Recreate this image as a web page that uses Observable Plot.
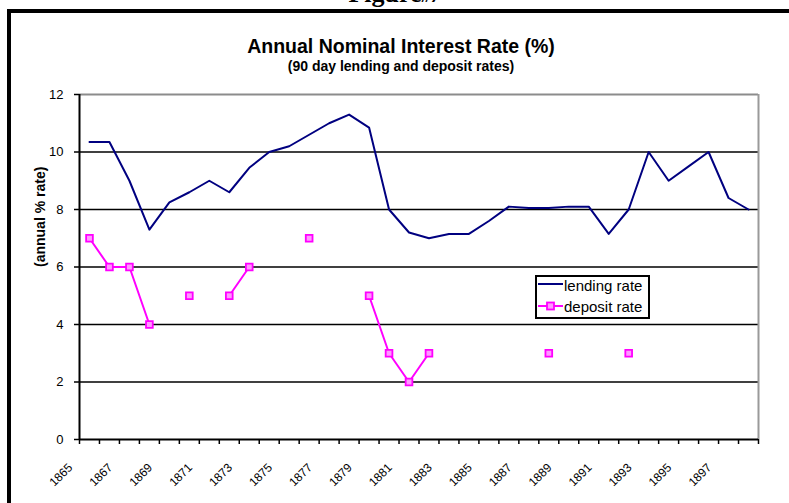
<!DOCTYPE html>
<html>
<head>
<meta charset="utf-8">
<script src="https://cdn.jsdelivr.net/npm/d3@7"></script>
<script src="https://cdn.jsdelivr.net/npm/@observablehq/plot@0.6"></script>
<style>
  html, body { margin: 0; padding: 0; background: #fff; }
  #wrap { position: relative; width: 789px; height: 503px; overflow: hidden; font-family: "Liberation Sans", Arial, sans-serif; }
  #wrap svg { position: absolute; left: 0; top: 0; }
  .abs { position: absolute; white-space: nowrap; }
</style>
</head>
<body>
<div id="wrap">
  <div id="chart"></div>
  <div class="abs" style="left:7px; top:9px; width:800px; height:520px; border-left:4px solid #000; border-top:4px solid #000;"></div>
  <div class="abs" id="figlabel" style="left:0; width:789px; top:-21px; text-align:center; font-family:'Liberation Serif','Times New Roman',serif; font-weight:bold; font-size:26px; line-height:30px;">Figure<span style="font-size:19px; font-style:italic;">#7</span></div>
  <div class="abs" id="title" style="left:0; width:802px; top:35px; text-align:center; font-weight:bold; font-size:19.5px; line-height:22px;">Annual Nominal Interest Rate (%)</div>
  <div class="abs" id="subtitle" style="left:0; width:802px; top:58px; text-align:center; font-weight:bold; font-size:14px; line-height:16px;">(90 day lending and deposit rates)</div>
  <div class="abs" id="legend" style="left:535px; top:275px; width:111px; height:40px; border:2px solid #000; background:#fff;"></div>
</div>
<script>
// Categories (years)
const years = [1865,1866,1867,1868,1869,1870,1871,1872,1873,1874,1875,1876,1877,1878,1879,1880,1881,1882,1883,1884,1885,1886,1887,1888,1889,1890,1891,1892,1893,1894,1895,1896,1897,1898];
// Lending rate (%)
const lending = [10.35,10.35,9.0,7.3,8.25,8.6,9.0,8.6,9.45,10.0,10.2,10.6,11.0,11.3,10.85,8.0,7.2,7.0,7.15,7.15,7.6,8.1,8.05,8.05,8.1,8.1,7.15,8.0,10.0,9.0,9.5,10.0,8.4,8.0];
// Deposit rate (%), null = missing
const deposit = [7,6,6,4,null,5,null,5,6,null,null,7,null,null,5,3,2,3,null,null,null,null,null,3,null,null,null,3,null,null,null,null,null,null];
// Axis labels
const yTicks = [0,2,4,6,8,10,12];
const xLabelYears = ["1865","1867","1869","1871","1873","1875","1877","1879","1881","1883","1885","1887","1889","1891","1893","1895","1897"];
const seriesNames = ["lending rate","deposit rate"];
const yTitle = "(annual % rate)";

const lendData = years.map((yr, i) => ({year: yr, value: lending[i]}));
const depData = years.map((yr, i) => ({year: yr, value: deposit[i]}));
const depPoints = depData.filter(d => d.value != null);
const boundaries = years.map(y => y - 0.5).concat([years[years.length - 1] + 0.5]);

const navy = "#000080";
const magenta = "#ff00ff";
const markerFill = "#ff99ff";

const chart = Plot.plot({
  width: 789,
  height: 503,
  marginLeft: 79,
  marginRight: 31,
  marginTop: 94,
  marginBottom: 64,
  style: {fontFamily: "'Liberation Sans', Arial, sans-serif", fontSize: "12px", color: "#000", background: "transparent", overflow: "visible"},
  x: {domain: [years[0] - 0.5, years[years.length - 1] + 0.5], axis: null},
  y: {domain: [0, 12], axis: null},
  marks: [
    Plot.ruleY([2,4,6,8,10], {stroke: "#000", strokeWidth: 1.5}),
    Plot.ruleY([12], {stroke: "#8c8c8c", strokeWidth: 2}),
    Plot.ruleX([years[years.length - 1] + 0.5], {stroke: "#9a9a9a", strokeWidth: 2}),
    Plot.axisY({ticks: yTicks, label: null, tickSize: 5, tickFormat: () => "", stroke: "#000", strokeWidth: 1.5}),
    Plot.text(yTicks, {y: d => d, text: d => String(d), frameAnchor: "left", textAnchor: "end", dx: -16, fontSize: 13}),
    Plot.axisX({ticks: boundaries, label: null, tickSize: 5, tickFormat: () => "", stroke: "#000", strokeWidth: 1.5}),
    Plot.ruleY([0], {stroke: "#000", strokeWidth: 2}),
    Plot.ruleX([years[0] - 0.5], {stroke: "#000", strokeWidth: 2}),
    Plot.text(xLabelYears, {x: d => +d, text: d => d, frameAnchor: "bottom", rotate: -45, textAnchor: "end", lineAnchor: "middle", dx: -19, dy: 26, fontSize: 12, letterSpacing: "-0.9px"}),
    Plot.text([yTitle], {frameAnchor: "left", dx: -39, rotate: -90, fontWeight: "bold", fontSize: 14}),
    Plot.line(lendData, {x: "year", y: "value", stroke: navy, strokeWidth: 2}),
    Plot.line(depData, {x: "year", y: "value", stroke: magenta, strokeWidth: 2}),
    Plot.dot(depPoints, {x: "year", y: "value", symbol: "square", r: 3.8, stroke: magenta, strokeWidth: 1.8, fill: markerFill})
  ]
});
document.getElementById("chart").appendChild(chart);

// Legend
const legend = document.getElementById("legend");
legend.innerHTML =
  '<svg width="30" height="40" style="position:absolute;left:1px;top:0;">' +
  '<line x1="0" x2="25" y1="7" y2="7" stroke="' + navy + '" stroke-width="2"/>' +
  '<line x1="0" x2="25" y1="29" y2="29" stroke="' + magenta + '" stroke-width="2"/>' +
  '<rect x="9" y="25.5" width="7" height="7" fill="' + markerFill + '" stroke="' + magenta + '" stroke-width="1.8"/>' +
  '</svg>' +
  '<div class="abs" style="left:27px; top:-1px; font-size:15px; line-height:20px;">' + seriesNames[0] + '</div>' +
  '<div class="abs" style="left:27px; top:20px; font-size:15px; line-height:20px;">' + seriesNames[1] + '</div>';
</script>
</body>
</html>
